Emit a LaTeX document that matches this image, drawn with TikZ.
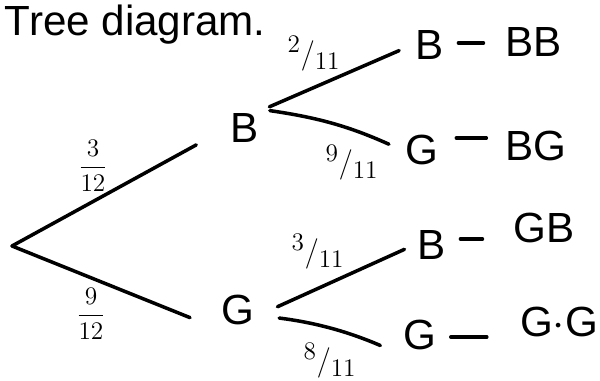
\documentclass[tikz,border=0pt]{standalone}
\usepackage{fontspec}
\setmainfont{Liberation Sans}
\begin{document}
\begin{tikzpicture}[x=0.02cm, y=-0.02cm,
	branch/.style={line width=2pt, line cap=round},
	letter/.style={font=\fontsize{24}{28}\selectfont, inner sep=2pt},
	prob/.style={font=\fontsize{15}{17}\selectfont, inner sep=1pt},
	slprob/.style={font=\fontsize{19}{21}\selectfont, inner sep=1pt}]
	\useasboundingbox (0,0) rectangle (600,381);
	\node[letter, anchor=base west] (title) at (1,36) {Tree diagram.};
	% first draw
	\coordinate (root) at (12,246);
	\node[letter] (b) at (245,128) {B};
	\node[letter] (g) at (238,310) {G};
	\draw[branch, shorten >=20pt] (root) -- (b.west);
	\draw[branch, shorten >=17pt] (root) -- (g.south west);
	\node[prob] (pb) at (93,166) {$\displaystyle\frac{3}{12}$};
	\node[prob] (pg) at (91,314) {$\displaystyle\frac{9}{12}$};
	% second draw
	\node[letter] (bb) at (430,45) {B};
	\node[letter] (bg) at (422,150) {G};
	\node[letter] (gb) at (432,245) {B};
	\node[letter] (gg) at (420,335) {G};
	\draw[branch, shorten <=4pt, shorten >=8pt] (b.north east) -- (bb.west);
	\draw[branch, shorten <=4pt, shorten >=8pt] (b.north east) to[bend left=8] (bg.west);
	\draw[branch, shorten <=12pt, shorten >=6pt] (g.-15) -- (gb.west);
	\draw[branch, shorten <=12pt, shorten >=12pt] (g.-15) to[bend left=8] (gg.south west);
	\node[slprob] (pbb) at (314,54) {$^{2}/_{11}$};
	\node[slprob] (pbg) at (352,163) {$^{9}/_{11}$};
	\node[slprob] (pgb) at (318,252) {$^{3}/_{11}$};
	\node[slprob] (pgg) at (330,361) {$^{8}/_{11}$};
	% outcomes
	\node[letter] (obb) at (534,42) {BB};
	\node[letter] (obg) at (536,146) {BG};
	\node[letter] (ogb) at (544,228) {GB};
	\node[letter] (ogg) at (559,322) {G$\cdot$G};
	\draw[branch] (bb.east) ++(6pt,-2) coordinate (d1) -- ++(25,0);
	\draw[branch] (bg.east) ++(8pt,-12) coordinate (d2) -- ++(30,0);
	\draw[branch] (gb.east) ++(6pt,-6) coordinate (d3) -- ++(22,0);
	\draw[branch] (gg.east) ++(6pt,2) coordinate (d4) -- ++(36,0);
\end{tikzpicture}
\end{document}
